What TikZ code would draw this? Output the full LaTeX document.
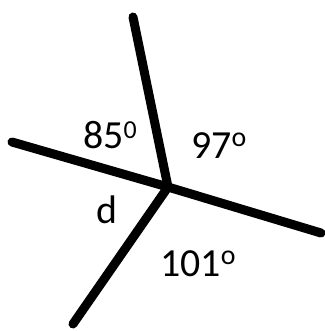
\documentclass[tikz,border=0pt]{standalone}
\usepackage{fontspec}
\setmainfont{Carlito}
\newcommand\mysupz{\raisebox{9.5bp}{\fontsize{26}{26}\selectfont 0}}
\newcommand\mysupo{\raisebox{12bp}{\fontsize{28}{28}\selectfont o}}
\begin{document}
\begin{tikzpicture}[x=1bp,y=-1bp,
  ray/.style={line width=9bp, line cap=round, line join=round},
  lbl/.style={anchor=base west, inner sep=0pt, font=\fontsize{40}{44}\selectfont}]
\useasboundingbox (0,0) rectangle (325,331);
\coordinate (c) at (168,187);
\coordinate (t) at (133,17);
\coordinate (l) at (12,142);
\coordinate (r) at (321,233);
\coordinate (b) at (73,324);
\draw[ray] (t) -- (c) -- (r);
\draw[ray] (l) -- (c) -- (b);
\node[lbl] (a85) at (83,148) {85\mysupz};
\node[lbl] (a97) at (191,158) {97\mysupo};
\node[lbl] (ad) at (96,223) {d};
\node[lbl] (a101) at (160,276) {101\mysupo};
\end{tikzpicture}
\end{document}
